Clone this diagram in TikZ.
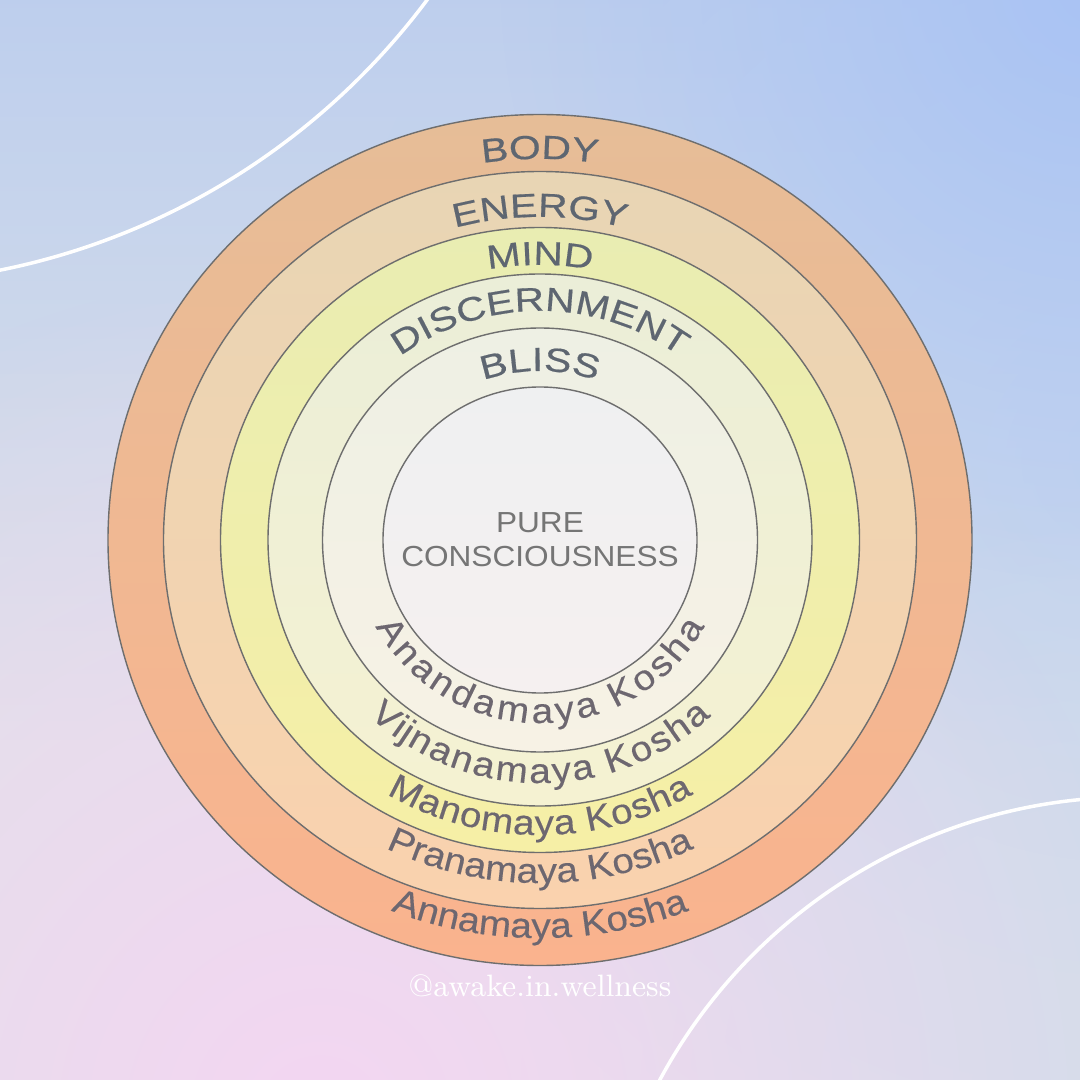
\documentclass[tikz,border=0pt]{standalone}
\usepackage{fontspec}
\newfontfamily\capsfont[FakeStretch=1.22,FakeBold=0.5]{Liberation Sans}
\newfontfamily\koshafont[FakeStretch=1.1,FakeBold=0.3]{Liberation Sans}
\newfontfamily\corefont[FakeStretch=1.09]{Liberation Sans}
\usetikzlibrary{decorations.text,fadings}

\definecolor{skytop}{HTML}{B3C8F0}
\definecolor{skymid}{HTML}{DEE3E8}
\definecolor{pinkglow}{HTML}{F4D6F2}
\definecolor{blueglow}{HTML}{A9C3F4}
\definecolor{sideglow}{HTML}{C2D3F0}
\definecolor{greyglow}{HTML}{D4DDEB}
\definecolor{bodytop}{HTML}{E6BD97}
\definecolor{bodylow}{HTML}{FAB38E}
\definecolor{energytop}{HTML}{E8D5B4}
\definecolor{energylow}{HTML}{FAD2AE}
\definecolor{mindtop}{HTML}{E9EDB2}
\definecolor{mindlow}{HTML}{F6EFA6}
\definecolor{disctop}{HTML}{EBEED8}
\definecolor{disclow}{HTML}{F5F2D2}
\definecolor{blisstop}{HTML}{EEF0E4}
\definecolor{blisslow}{HTML}{F7F2E5}
\definecolor{coretop}{HTML}{EFF0F1}
\definecolor{corelow}{HTML}{F5F0F0}
\definecolor{ringline}{HTML}{6E6E6E}
\definecolor{capsgrey}{HTML}{5E6671}
\definecolor{koshagrey}{HTML}{6D6770}
\definecolor{coregrey}{HTML}{757575}

\tikzfading[name=glowfade,inner color=transparent!0,outer color=transparent!100]
\tikzfading[name=fadedown,top color=transparent!0,bottom color=transparent!100]

% top names: x radius, y radius, text
\newcommand{\overlabel}[3]{%
  \path[decorate,decoration={text along path,text align=center,
    text={|\capsfont\fontsize{9.5}{11}\selectfont\color{capsgrey}|#3}}]
    (165:#1 and #2) arc[start angle=165,end angle=15,x radius=#1,y radius=#2];}
% bottom names: baseline y radius, spread, text
\newcommand{\underlabel}[3]{%
  \pgfmathsetmacro\lblry{#1-#2}\pgfmathsetmacro\lblrx{1.022*\lblry}
  \path[decorate,decoration={text along path,text align=center,raise=-#2cm,
    text={|\koshafont\fontsize{10}{12}\selectfont\color{koshagrey}|#3}}]
    (182:\lblrx cm and \lblry cm) arc[start angle=182,end angle=358,x radius=\lblrx cm,y radius=\lblry cm];}

\begin{document}
\begin{tikzpicture}[ring/.style={draw=ringline,line width=0.4pt},
  swoosh/.style={draw=white,line width=1pt}]
  \useasboundingbox (-5.4,-5.4) rectangle (5.4,5.4);
  \clip (-5.4,-5.4) rectangle (5.4,5.4);
  % backdrop
  \fill[skymid] (-5.4,-5.4) rectangle (5.4,5.4);
  \fill[skytop,path fading=fadedown] (-5.4,-2) rectangle (5.4,7.9);
  \fill[sideglow,path fading=glowfade] (5.8,0.8) circle (8);
  \fill[blueglow,path fading=glowfade] (5.6,5.6) circle (6);
  \fill[greyglow,path fading=glowfade] (5.8,-5.6) circle (6);
  \fill[pinkglow,path fading=glowfade] (-2.2,-5.8) circle (8.5);
  \draw[swoosh] (-6.8,9.64) circle (7.08);
  \draw[swoosh] (5.93,-7.94) circle (5.37);
  % sheaths, outside in
  \shadedraw[ring,top color=bodytop,bottom color=bodylow] (0,0) ellipse [x radius=4.32,y radius=4.255];
  \shadedraw[ring,top color=energytop,bottom color=energylow] (0,0) ellipse [x radius=3.765,y radius=3.685];
  \shadedraw[ring,top color=mindtop,bottom color=mindlow] (0,0) ellipse [x radius=3.195,y radius=3.125];
  \shadedraw[ring,top color=disctop,bottom color=disclow] (0,0) ellipse [x radius=2.72,y radius=2.66];
  \shadedraw[ring,top color=blisstop,bottom color=blisslow] (0,0) ellipse [x radius=2.175,y radius=2.12];
  \shadedraw[ring,top color=coretop,bottom color=corelow] (0,0) ellipse [x radius=1.57,y radius=1.53];
  % english names
  \overlabel{3.89}{3.81}{BODY}
  \overlabel{3.30}{3.23}{ENERGY}
  \overlabel{2.81}{2.75}{MIND}
  \overlabel{2.34}{2.29}{DISCERNMENT}
  \overlabel{1.73}{1.69}{BLISS}
  % sanskrit names
  \underlabel{1.83}{0.26}{Anandamaya Kosha}
  \underlabel{2.43}{0.23}{Vijnanamaya Kosha}
  \underlabel{2.95}{0.10}{Manomaya Kosha}
  \underlabel{3.43}{0.01}{Pranamaya Kosha}
  \underlabel{3.98}{0}{Annamaya Kosha}
  \node[font=\corefont\fontsize{8.25}{9.7}\selectfont,text=coregrey,align=center] (core) at (0,0) {PURE\\CONSCIOUSNESS};
  \node[font=\rmfamily\fontsize{8.8}{10}\selectfont,text=white] (tag) at (0,-4.46) {@awake.in.wellness};
\end{tikzpicture}
\end{document}
